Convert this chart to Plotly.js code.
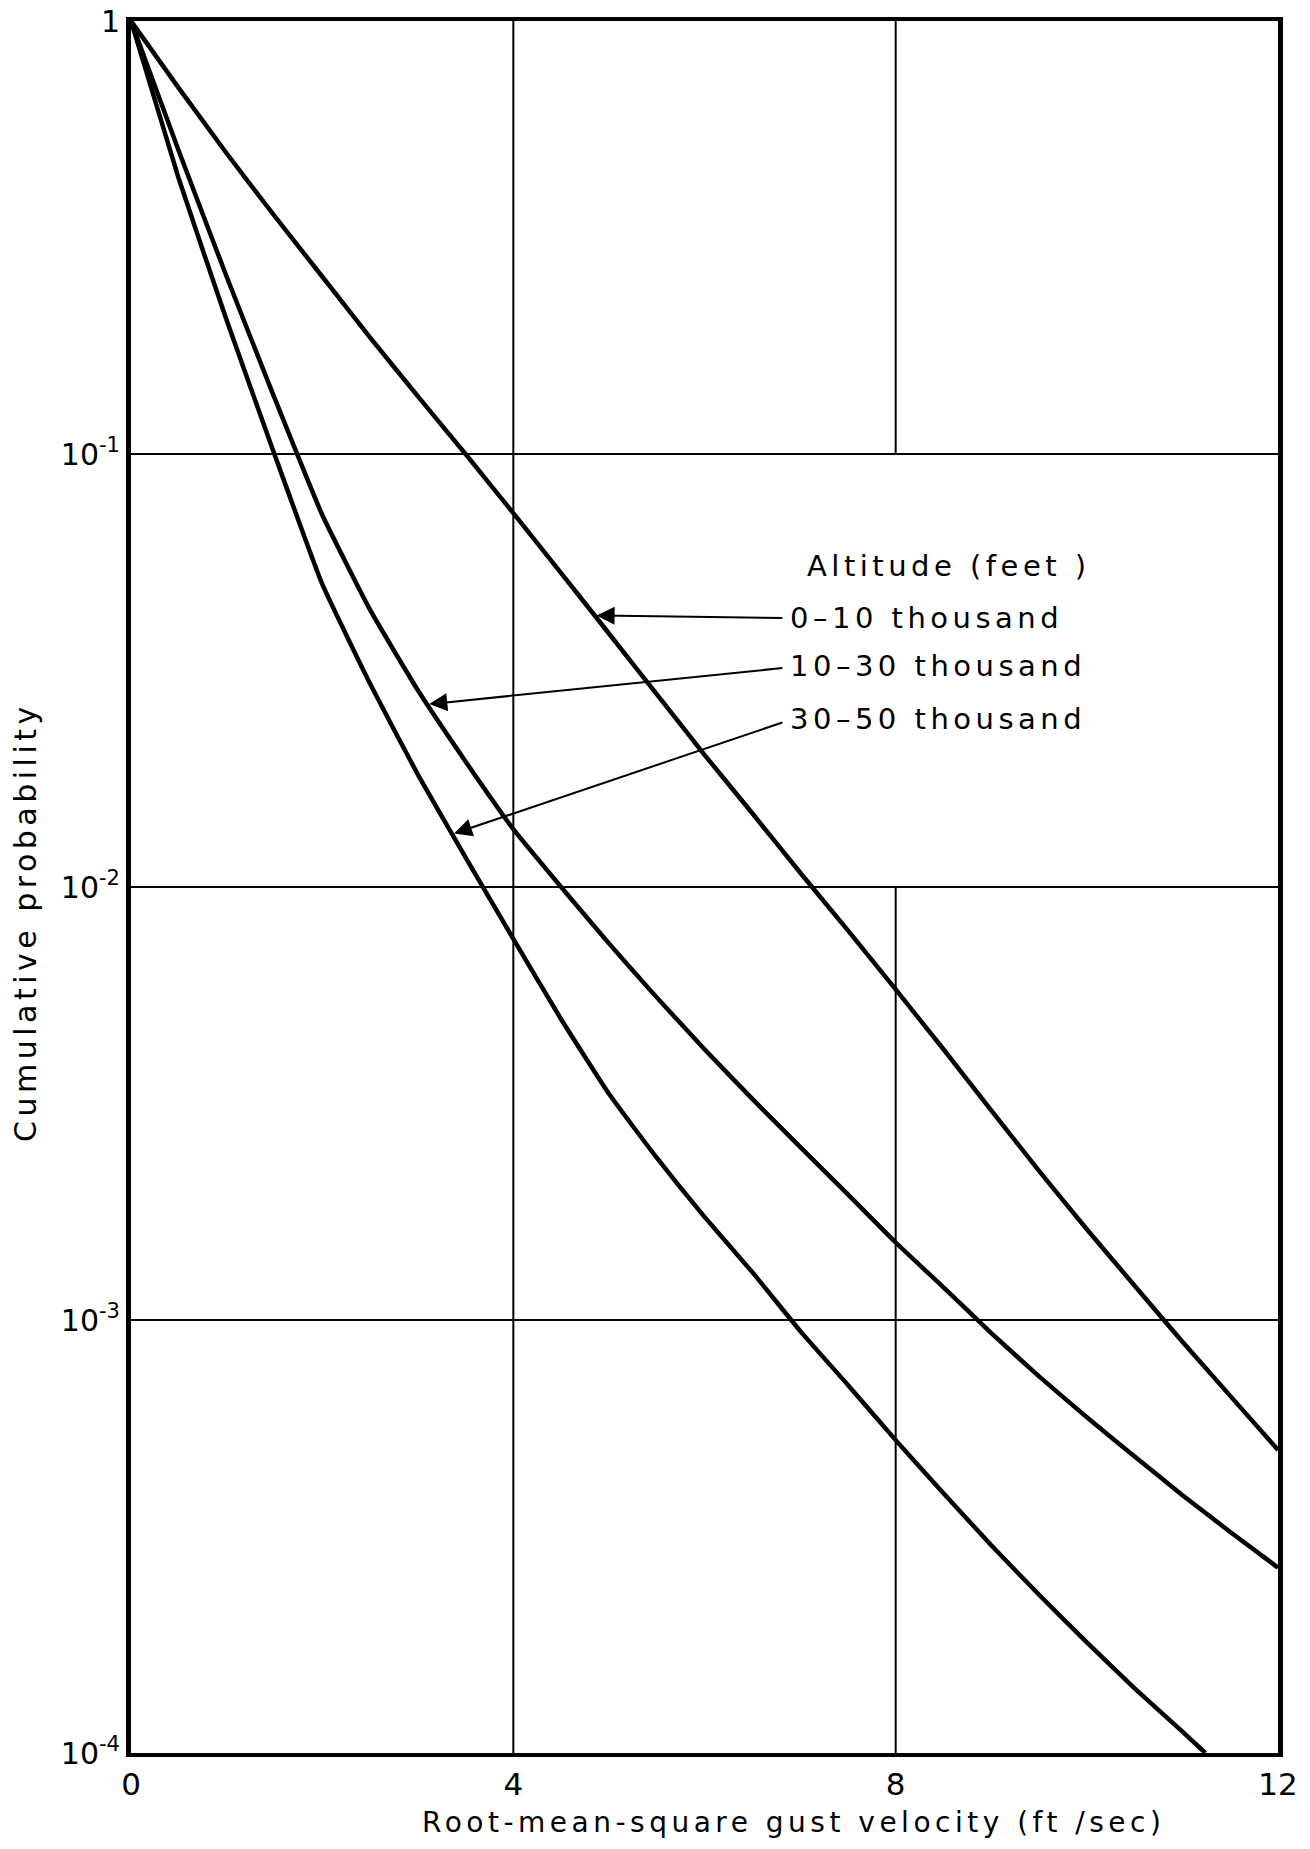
<!DOCTYPE html>
<html>
<head>
<meta charset="utf-8">
<script src="https://cdn.plot.ly/plotly-3.0.1.min.js"></script>
<style>
  html, body { margin: 0; padding: 0; background: #fff; }
  #chart { width: 1310px; height: 1849px; }
  .annotation-text { letter-spacing: 4.5px; }
</style>
</head>
<body>
<div id="chart"></div>
<script>
// Gust velocity (ft/sec)
const velocity = [0, 0.5, 1, 1.5, 2, 2.5, 3, 3.5, 4, 4.5, 5, 5.5, 6, 6.5, 7, 7.5, 8, 8.5, 9, 9.5, 10, 10.5, 11, 11.5, 12];
const velocityHigh = [0, 0.5, 1, 1.5, 2, 2.5, 3, 3.5, 4, 4.5, 5, 5.5, 6, 6.5, 7, 7.5, 8, 8.5, 9, 9.5, 10, 10.5, 11, 11.24];

// Cumulative probability for each altitude band
const prob_0_10 = [1, 0.700, 0.495, 0.355, 0.257, 0.186, 0.136, 0.100, 0.0730, 0.0531, 0.0385, 0.0279, 0.0202, 0.0148, 0.0108, 0.00794, 0.00580, 0.00422, 0.00305, 0.00221, 0.00162, 0.00120, 0.000891, 0.000668, 0.000501];
const prob_10_30 = [1, 0.501, 0.257, 0.135, 0.0724, 0.0437, 0.0285, 0.0195, 0.0136, 0.0100, 0.00741, 0.00556, 0.00422, 0.00324, 0.00251, 0.00195, 0.00151, 0.00119, 0.000933, 0.000741, 0.000596, 0.000484, 0.000394, 0.000324, 0.000268];
const prob_30_50 = [1, 0.432, 0.204, 0.100, 0.0501, 0.0295, 0.0182, 0.0117, 0.00759, 0.00495, 0.00333, 0.00237, 0.00173, 0.00129, 0.000944, 0.000708, 0.000528, 0.000398, 0.000302, 0.000232, 0.000180, 0.000141, 0.000112, 0.0001];

const seriesNames = ['0\u201310 thousand', '10\u201330 thousand', '30\u201350 thousand'];
const legendTitle = 'Altitude (feet )';
const xTitle = 'Root-mean-square gust velocity (ft /sec)';
const yTitle = 'Cumulative probability';

// Axis ticks
const xTickVals = [0, 4, 8, 12];
const xTickText = ['0', '4', '8', '12'];
const yTickVals = [1e-4, 1e-3, 1e-2, 1e-1, 1];
const yTickText = ['10<sup>-4</sup>', '10<sup>-3</sup>', '10<sup>-2</sup>', '10<sup>-1</sup>', '1'];

const FONT = '"DejaVu Sans", "Liberation Sans", sans-serif';

function logInterp(xs, ys, x) {
  for (let i = 0; i < xs.length - 1; i++) {
    if (x >= xs[i] && x <= xs[i + 1]) {
      const t = (x - xs[i]) / (xs[i + 1] - xs[i]);
      return Math.log10(ys[i]) * (1 - t) + Math.log10(ys[i + 1]) * t;
    }
  }
  return Math.log10(ys[ys.length - 1]);
}

const lineStyle = { color: '#000', width: 4.5, shape: 'spline', smoothing: 0.4 };
const traces = [
  { x: velocity, y: prob_0_10, name: seriesNames[0], mode: 'lines', line: lineStyle },
  { x: velocity, y: prob_10_30, name: seriesNames[1], mode: 'lines', line: lineStyle },
  { x: velocityHigh, y: prob_30_50, name: seriesNames[2], mode: 'lines', line: lineStyle }
];

// paper fraction of a probability on the log axis
const yMinLog = Math.log10(yTickVals[0]);
const yMaxLog = Math.log10(yTickVals[yTickVals.length - 1]);
const frac = v => (Math.log10(v) - yMinLog) / (yMaxLog - yMinLog);

const gridStyle = { color: '#000', width: 2 };
const shapes = [
  { type: 'line', xref: 'x', yref: 'paper', x0: xTickVals[1], x1: xTickVals[1], y0: 0, y1: 1, line: gridStyle, layer: 'below' },
  { type: 'line', xref: 'x', yref: 'paper', x0: xTickVals[2], x1: xTickVals[2], y0: frac(yTickVals[3]), y1: 1, line: gridStyle, layer: 'below' },
  { type: 'line', xref: 'x', yref: 'paper', x0: xTickVals[2], x1: xTickVals[2], y0: 0, y1: frac(yTickVals[2]), line: gridStyle, layer: 'below' }
];

const textFont = { family: FONT, size: 29, color: '#000' };
const labelX = 0.573;
const tailX = 6.83;
const arrowStyle = { text: '', showarrow: true, arrowhead: 2, arrowsize: 1.8, arrowwidth: 2, arrowcolor: '#000', standoff: 2, axref: 'x', ayref: 'y' };
const annotations = [
  { xref: 'paper', yref: 'paper', x: 0.588, y: 0.6853, text: legendTitle, showarrow: false, xanchor: 'left', yanchor: 'middle', font: textFont },
  { xref: 'paper', yref: 'paper', x: labelX, y: 0.6553, text: seriesNames[0], showarrow: false, xanchor: 'left', yanchor: 'middle', font: textFont },
  { xref: 'paper', yref: 'paper', x: labelX, y: 0.6276, text: seriesNames[1], showarrow: false, xanchor: 'left', yanchor: 'middle', font: textFont },
  { xref: 'paper', yref: 'paper', x: labelX, y: 0.5970, text: seriesNames[2], showarrow: false, xanchor: 'left', yanchor: 'middle', font: textFont },
  // axis titles
  { xref: 'paper', yref: 'paper', x: 0.578, y: -0.040, text: xTitle, showarrow: false, xanchor: 'center', yanchor: 'middle', font: { family: FONT, size: 28, color: '#000' } },
  { xref: 'paper', yref: 'paper', x: -0.0915, y: 0.4798, text: yTitle, showarrow: false, textangle: -90, xanchor: 'center', yanchor: 'middle', font: { family: FONT, size: 30, color: '#000' } },
  // arrows pointing at curves
  Object.assign({ x: 4.85, y: logInterp(velocity, prob_0_10, 4.85), ax: tailX, ay: -1.379 }, arrowStyle),
  Object.assign({ x: 3.10, y: logInterp(velocity, prob_10_30, 3.10), ax: tailX, ay: -1.494 }, arrowStyle),
  Object.assign({ x: 3.36, y: logInterp(velocityHigh, prob_30_50, 3.36), ax: tailX, ay: -1.619 }, arrowStyle)
];

const layout = {
  width: 1310,
  height: 1849,
  margin: { l: 131, r: 32, t: 21, b: 96 },
  paper_bgcolor: '#fff',
  plot_bgcolor: '#fff',
  showlegend: false,
  font: { family: FONT, color: '#000' },
  xaxis: {
    range: [0, 12],
    tickvals: xTickVals,
    ticktext: xTickText,
    ticks: '',
    ticklabelstandoff: 1,
    showgrid: false,
    zeroline: false,
    showline: true,
    linecolor: '#000',
    linewidth: 4,
    mirror: true,
    tickfont: { family: FONT, size: 31, color: '#000' }
  },
  yaxis: {
    type: 'log',
    range: [-4, 0],
    tickvals: yTickVals,
    ticktext: yTickText,
    ticks: '',
    showgrid: true,
    gridcolor: '#000',
    gridwidth: 2,
    zeroline: false,
    showline: true,
    linecolor: '#000',
    linewidth: 5,
    mirror: true,
    tickfont: { family: FONT, size: 30, color: '#000' }
  },
  shapes: shapes,
  annotations: annotations
};

Plotly.newPlot('chart', traces, layout, { displayModeBar: false, staticPlot: true });
</script>
</body>
</html>
